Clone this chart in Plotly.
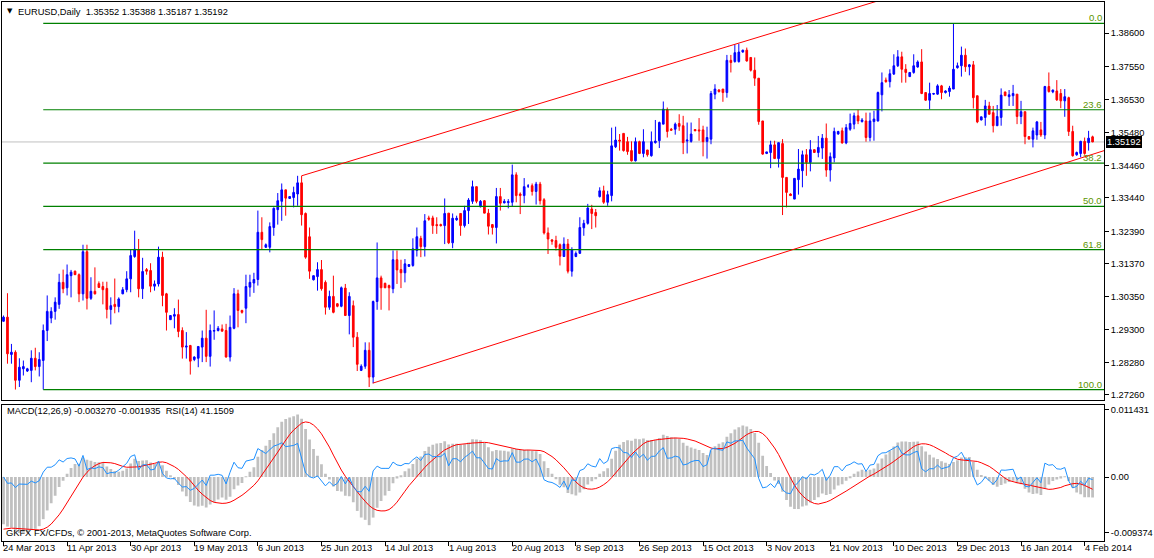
import numpy as np
import pandas as pd
import plotly.graph_objects as go

# ---------------- data ----------------
dates = pd.bdate_range("2013-03-24", periods=275, freq="C",
                       weekmask="Sun Mon Tue Wed Thu Fri")
categories = [d.strftime("%Y-%m-%d") for d in dates]

open_ = [1.2957, 1.2970, 1.2853, 1.2860, 1.2772, 1.2808, 1.2801, 1.2803, 1.2841, 1.2815,
         1.2834, 1.2928, 1.2967, 1.2988, 1.3010, 1.3079, 1.3062, 1.3100, 1.3114, 1.3103,
         1.3043, 1.3175, 1.3029, 1.3051, 1.3075, 1.3066, 1.3060, 1.2994, 1.3010, 1.3003,
         1.3043, 1.3056, 1.3090, 1.3160, 1.3182, 1.3059, 1.3119, 1.3116, 1.3067, 1.3074,
         1.3158, 1.3043, 1.2962, 1.2973, 1.2978, 1.2928, 1.2876, 1.2881, 1.2837, 1.2841,
         1.2876, 1.2904, 1.2847, 1.2926, 1.2928, 1.2933, 1.2928, 1.2845, 1.2935, 1.3043,
         1.2991, 1.2998, 1.3064, 1.3077, 1.3088, 1.3236, 1.3189, 1.3189, 1.3251, 1.3307,
         1.3333, 1.3369, 1.3342, 1.3345, 1.3356, 1.3391, 1.3295, 1.3222, 1.3087, 1.3097,
         1.3119, 1.3079, 1.3001, 1.3035, 1.3012, 1.3004, 1.3061, 1.2975, 1.3006, 1.2907,
         1.2803, 1.2816, 1.2866, 1.2782, 1.3019, 1.3093, 1.3076, 1.3069, 1.3059, 1.3150,
         1.3119, 1.3109, 1.3129, 1.3132, 1.3179, 1.3217, 1.3191, 1.3281, 1.3281, 1.3260,
         1.3260, 1.3257, 1.3296, 1.3203, 1.3275, 1.3295, 1.3257, 1.3304, 1.3333, 1.3379,
         1.3316, 1.3335, 1.3296, 1.3260, 1.3251, 1.3348, 1.3328, 1.3329, 1.3330, 1.3416,
         1.3356, 1.3351, 1.3381, 1.3382, 1.3364, 1.3387, 1.3338, 1.3234, 1.3212, 1.3210,
         1.3197, 1.3160, 1.3199, 1.3114, 1.3160, 1.3170, 1.3250, 1.3264, 1.3309, 1.3298,
         1.3348, 1.3366, 1.3330, 1.3351, 1.3504, 1.3525, 1.3546, 1.3520, 1.3492, 1.3460,
         1.3520, 1.3483, 1.3494, 1.3476, 1.3517, 1.3523, 1.3575, 1.3620, 1.3559, 1.3559,
         1.3577, 1.3570, 1.3522, 1.3521, 1.3558, 1.3557, 1.3557, 1.3521, 1.3528, 1.3669,
         1.3682, 1.3685, 1.3674, 1.3775, 1.3771, 1.3771, 1.3801, 1.3807, 1.3784, 1.3744,
         1.3719, 1.3585, 1.3483, 1.3486, 1.3510, 1.3467, 1.3514, 1.3408, 1.3356, 1.3340,
         1.3401, 1.3429, 1.3479, 1.3455, 1.3495, 1.3486, 1.3500, 1.3531, 1.3431, 1.3469,
         1.3544, 1.3554, 1.3516, 1.3559, 1.3575, 1.3601, 1.3583, 1.3585, 1.3533, 1.3583,
         1.3585, 1.3667, 1.3713, 1.3708, 1.3732, 1.3758, 1.3786, 1.3747, 1.3724, 1.3737,
         1.3754, 1.3770, 1.3674, 1.3650, 1.3669, 1.3669, 1.3695, 1.3674, 1.3677, 1.3685,
         1.3752, 1.3758, 1.3791, 1.3755, 1.3761, 1.3664, 1.3588, 1.3596, 1.3632, 1.3611,
         1.3570, 1.3596, 1.3676, 1.3661, 1.3664, 1.3669, 1.3599, 1.3614, 1.3536, 1.3528,
         1.3541, 1.3557, 1.3541, 1.3693, 1.3676, 1.3679, 1.3671, 1.3648, 1.3658, 1.3552,
         1.3479, 1.3483, 1.3521, 1.3517, 1.35352]

high = [1.2975, 1.3045, 1.2886, 1.2866, 1.2841, 1.2834, 1.2811, 1.2866, 1.2874, 1.2860,
        1.2947, 1.3038, 1.3001, 1.3032, 1.3106, 1.3119, 1.3135, 1.3118, 1.3116, 1.3107,
        1.3197, 1.3197, 1.3095, 1.3126, 1.3082, 1.3081, 1.3081, 1.3032, 1.3091, 1.3032,
        1.3064, 1.3114, 1.3182, 1.3241, 1.3215, 1.3156, 1.3124, 1.3139, 1.3085, 1.3191,
        1.3175, 1.3046, 1.2975, 1.2998, 1.3025, 1.2938, 1.2923, 1.2883, 1.2847, 1.2878,
        1.2928, 1.2993, 1.2947, 1.2991, 1.2942, 1.2947, 1.2949, 1.2975, 1.3061, 1.3056,
        1.2993, 1.3103, 1.3103, 1.3109, 1.3304, 1.3283, 1.3201, 1.3267, 1.3314, 1.3359,
        1.3389, 1.3369, 1.3348, 1.3379, 1.3413, 1.3413, 1.3298, 1.3251, 1.3100, 1.3142,
        1.3149, 1.3085, 1.3053, 1.3100, 1.3014, 1.3066, 1.3074, 1.3048, 1.3022, 1.2923,
        1.2822, 1.2891, 1.2891, 1.3022, 1.3204, 1.3100, 1.3078, 1.3072, 1.3179, 1.3179,
        1.3150, 1.3152, 1.3135, 1.3217, 1.3251, 1.3225, 1.3293, 1.3288, 1.3288, 1.3283,
        1.3263, 1.3342, 1.3296, 1.3295, 1.3288, 1.3295, 1.3319, 1.3343, 1.3398, 1.3379,
        1.3337, 1.3337, 1.3309, 1.3262, 1.3375, 1.3375, 1.3340, 1.3340, 1.3448, 1.3424,
        1.3361, 1.3406, 1.3387, 1.3389, 1.3394, 1.3394, 1.3343, 1.3251, 1.3215, 1.3225,
        1.3201, 1.3220, 1.3215, 1.3189, 1.3176, 1.3283, 1.3275, 1.3325, 1.3322, 1.3309,
        1.3377, 1.3382, 1.3366, 1.3564, 1.3567, 1.3544, 1.3546, 1.3535, 1.3521, 1.3533,
        1.3523, 1.3559, 1.3494, 1.3552, 1.3588, 1.3583, 1.3646, 1.3627, 1.3563, 1.3580,
        1.3606, 1.3601, 1.3580, 1.3580, 1.3559, 1.3594, 1.3570, 1.3567, 1.3679, 1.3700,
        1.3685, 1.3685, 1.3792, 1.3792, 1.3825, 1.3827, 1.3808, 1.3815, 1.3784, 1.3784,
        1.3719, 1.3585, 1.3488, 1.3523, 1.3523, 1.3517, 1.3528, 1.3408, 1.3358, 1.3405,
        1.3497, 1.3492, 1.3497, 1.3525, 1.3495, 1.3538, 1.3544, 1.3577, 1.3486, 1.3564,
        1.3554, 1.3564, 1.3575, 1.3608, 1.3611, 1.3620, 1.3594, 1.3611, 1.3611, 1.3617,
        1.3677, 1.3737, 1.3721, 1.3747, 1.3794, 1.3807, 1.3802, 1.3763, 1.3737, 1.3794,
        1.3775, 1.3810, 1.3674, 1.3705, 1.3673, 1.3700, 1.3698, 1.3681, 1.3695, 1.3891,
        1.3768, 1.3818, 1.3812, 1.3763, 1.3773, 1.3664, 1.3598, 1.3651, 1.3645, 1.3632,
        1.3635, 1.3687, 1.3676, 1.3682, 1.3698, 1.3669, 1.3648, 1.3614, 1.3536, 1.3564,
        1.3585, 1.3582, 1.3695, 1.3737, 1.3683, 1.3713, 1.3685, 1.3685, 1.3661, 1.3570,
        1.3489, 1.3523, 1.3533, 1.3554, 1.35388]

low = [1.2956, 1.2824, 1.2824, 1.2743, 1.2751, 1.2787, 1.2798, 1.2766, 1.2803, 1.2784,
       1.2743, 1.2895, 1.2951, 1.2962, 1.2996, 1.3045, 1.3038, 1.3032, 1.3102, 1.3017,
       1.3022, 1.2994, 1.3024, 1.3041, 1.3062, 1.3010, 1.2966, 1.2947, 1.2982, 1.2985,
       1.3042, 1.3048, 1.3048, 1.3156, 1.3032, 1.3027, 1.3103, 1.3048, 1.3053, 1.3066,
       1.3004, 1.2928, 1.2962, 1.2935, 1.2907, 1.2840, 1.2840, 1.2790, 1.2832, 1.2813,
       1.2829, 1.2829, 1.2815, 1.2899, 1.2925, 1.2925, 1.2843, 1.2831, 1.2932, 1.2938,
       1.2981, 1.2951, 1.3034, 1.3046, 1.3069, 1.3181, 1.3187, 1.3173, 1.3225, 1.3260,
       1.3272, 1.3288, 1.3341, 1.3314, 1.3319, 1.3257, 1.3153, 1.3090, 1.3085, 1.3053,
       1.3053, 1.2978, 1.2993, 1.2982, 1.3001, 1.3001, 1.2975, 1.2916, 1.2876, 1.2801,
       1.2801, 1.2808, 1.2751, 1.2763, 1.2993, 1.2993, 1.3061, 1.2991, 1.3045, 1.3074,
       1.3061, 1.3079, 1.3128, 1.3128, 1.3160, 1.3158, 1.3160, 1.3272, 1.3231, 1.3231,
       1.3254, 1.3199, 1.3199, 1.3186, 1.3272, 1.3225, 1.3251, 1.3262, 1.3325, 1.3327,
       1.3314, 1.3296, 1.3229, 1.3229, 1.3201, 1.3304, 1.3327, 1.3311, 1.3316, 1.3330,
       1.3293, 1.3327, 1.3375, 1.3351, 1.3323, 1.3323, 1.3229, 1.3168, 1.3197, 1.3179,
       1.3132, 1.3160, 1.3107, 1.3097, 1.3158, 1.3168, 1.3225, 1.3260, 1.3246, 1.3251,
       1.3345, 1.3325, 1.3319, 1.3333, 1.3500, 1.3492, 1.3489, 1.3479, 1.3458, 1.3458,
       1.3481, 1.3471, 1.3473, 1.3473, 1.3514, 1.3500, 1.3575, 1.3533, 1.3556, 1.3542,
       1.3554, 1.3481, 1.3483, 1.3517, 1.3554, 1.3523, 1.3474, 1.3467, 1.3512, 1.3653,
       1.3674, 1.3645, 1.3658, 1.3737, 1.3768, 1.3768, 1.3799, 1.3771, 1.3740, 1.3695,
       1.3573, 1.3479, 1.3481, 1.3437, 1.3466, 1.3439, 1.3290, 1.3314, 1.3351, 1.3340,
       1.3354, 1.3377, 1.3413, 1.3427, 1.3486, 1.3471, 1.3466, 1.3410, 1.3395, 1.3455,
       1.3542, 1.3514, 1.3512, 1.3554, 1.3559, 1.3575, 1.3580, 1.3520, 1.3521, 1.3523,
       1.3583, 1.3615, 1.3705, 1.3690, 1.3729, 1.3754, 1.3705, 1.3705, 1.3723, 1.3733,
       1.3752, 1.3669, 1.3648, 1.3622, 1.3667, 1.3667, 1.3653, 1.3671, 1.3661, 1.3685,
       1.3749, 1.3724, 1.3739, 1.3728, 1.3624, 1.3578, 1.3587, 1.3570, 1.3606, 1.3549,
       1.3570, 1.3570, 1.3664, 1.3632, 1.3632, 1.3575, 1.3575, 1.3512, 1.3528, 1.3502,
       1.3526, 1.3535, 1.3528, 1.3674, 1.3672, 1.3648, 1.3625, 1.3598, 1.3538, 1.3473,
       1.3476, 1.3471, 1.3479, 1.3492, 1.35187]

close = [1.2970, 1.2855, 1.2860, 1.2772, 1.2813, 1.2815, 1.2808, 1.2841, 1.2815, 1.2837,
         1.2928, 1.2988, 1.2988, 1.3017, 1.3079, 1.3059, 1.3103, 1.3111, 1.3103, 1.3043,
         1.3175, 1.3029, 1.3051, 1.3043, 1.3063, 1.3056, 1.2994, 1.3006, 1.3003, 1.3027,
         1.3056, 1.3090, 1.3163, 1.3183, 1.3059, 1.3113, 1.3114, 1.3067, 1.3074, 1.3158,
         1.3038, 1.2985, 1.2975, 1.2978, 1.2925, 1.2876, 1.2879, 1.2832, 1.2845, 1.2878,
         1.2904, 1.2847, 1.2928, 1.2928, 1.2935, 1.2926, 1.2845, 1.2938, 1.3043, 1.2991,
         1.2985, 1.3066, 1.3079, 1.3088, 1.3236, 1.3213, 1.3197, 1.3254, 1.3311, 1.3335,
         1.3369, 1.3343, 1.3348, 1.3361, 1.3391, 1.3291, 1.3158, 1.3114, 1.3100, 1.3119,
         1.3059, 1.3001, 1.3035, 1.2985, 1.3004, 1.3062, 1.2975, 1.3035, 1.2907, 1.2822,
         1.2816, 1.2866, 1.2782, 1.3019, 1.3093, 1.3062, 1.3062, 1.3062, 1.3150, 1.3118,
         1.3109, 1.3137, 1.3135, 1.3184, 1.3222, 1.3191, 1.3272, 1.3277, 1.3257, 1.3257,
         1.3257, 1.3295, 1.3203, 1.3280, 1.3280, 1.3257, 1.3304, 1.3337, 1.3379, 1.3333,
         1.3333, 1.3296, 1.3255, 1.3251, 1.3348, 1.3327, 1.3333, 1.3332, 1.3416, 1.3351,
         1.3351, 1.3379, 1.3381, 1.3364, 1.3387, 1.3335, 1.3234, 1.3215, 1.3208, 1.3189,
         1.3161, 1.3199, 1.3114, 1.3181, 1.3170, 1.3251, 1.3264, 1.3312, 1.3295, 1.3288,
         1.3366, 1.3330, 1.3354, 1.3507, 1.3525, 1.3522, 1.3492, 1.3489, 1.3460, 1.3520,
         1.3483, 1.3520, 1.3479, 1.3520, 1.3522, 1.3580, 1.3622, 1.3552, 1.3556, 1.3575,
         1.3568, 1.3517, 1.3525, 1.3544, 1.3554, 1.3554, 1.3520, 1.3533, 1.3671, 1.3685,
         1.3677, 1.3674, 1.3775, 1.3768, 1.3799, 1.3801, 1.3807, 1.3773, 1.3744, 1.3719,
         1.3583, 1.3481, 1.3488, 1.3510, 1.3467, 1.3517, 1.3408, 1.3361, 1.3351, 1.3405,
         1.3434, 1.3479, 1.3455, 1.3495, 1.3486, 1.3502, 1.3531, 1.3431, 1.3473, 1.3552,
         1.3552, 1.3516, 1.3564, 1.3577, 1.3601, 1.3585, 1.3588, 1.3533, 1.3585, 1.3591,
         1.3674, 1.3705, 1.3708, 1.3733, 1.3758, 1.3786, 1.3747, 1.3737, 1.3737, 1.3758,
         1.3770, 1.3671, 1.3650, 1.3671, 1.3671, 1.3695, 1.3674, 1.3679, 1.3688, 1.3747,
         1.3758, 1.3791, 1.3755, 1.3761, 1.3658, 1.3582, 1.3598, 1.3632, 1.3606, 1.3570,
         1.3599, 1.3666, 1.3664, 1.3667, 1.3671, 1.3599, 1.3614, 1.3536, 1.3528, 1.3554,
         1.3582, 1.3541, 1.3693, 1.3677, 1.3682, 1.3651, 1.3648, 1.3661, 1.3552, 1.3476,
         1.3486, 1.3521, 1.3483, 1.3531, 1.35192]

# price axis labels (right side) and lower-pane labels
price_ticks = [1.38600, 1.37550, 1.36530, 1.35480, 1.34460, 1.33440,
               1.32390, 1.31370, 1.30350, 1.29300, 1.28280, 1.27260]
macd_ticks = [0.011431, 0.0, -0.009374]
macd_tick_text = ["0.011431", "0.00", "-0.009374"]

# date axis labels
tick_dates = ["2013-03-24", "2013-04-11", "2013-04-30", "2013-05-19", "2013-06-06",
              "2013-06-25", "2013-07-14", "2013-08-01", "2013-08-20", "2013-09-08",
              "2013-09-26", "2013-10-15", "2013-11-03", "2013-11-21", "2013-12-10",
              "2013-12-29", "2014-01-16", "2014-02-04"]
tick_labels = ["24 Mar 2013", "11 Apr 2013", "30 Apr 2013", "19 May 2013", "6 Jun 2013",
               "25 Jun 2013", "14 Jul 2013", "1 Aug 2013", "20 Aug 2013", "8 Sep 2013",
               "26 Sep 2013", "15 Oct 2013", "3 Nov 2013", "21 Nov 2013", "10 Dec 2013",
               "29 Dec 2013", "16 Jan 2014", "4 Feb 2014"]

# Fibonacci retracement: anchored on the bar-10 low and the bar-239 high
fib_low_bar, fib_high_bar = 10, 239
fib_levels = [0.0, 23.6, 38.2, 50.0, 61.8, 100.0]

# channel trend lines: (bar index, price) anchors, drawn as rays to the right
trend_upper = [(75, 1.3413), (185, 1.3829)]
trend_lower = [(92.9, 1.2763), (259, 1.3421)]

# indicator warm-up state before the first visible bar
seed_ema12, seed_ema26 = 1.2980, 1.3065
seed_macd_prev = [-0.0092, -0.0091, -0.0090, -0.0089, -0.0088, -0.0087, -0.0087, -0.0086]
seed_prev_close, seed_avg_gain, seed_avg_loss = 1.2957, 0.0032, 0.0040

header_text = "EURUSD,Daily  1.35352 1.35388 1.35187 1.35192"
ind_text = "MACD(12,26,9) -0.003270 -0.001935  RSI(14) 41.1509"
copy_text = "GKFX FX/CFDs, \u00a9 2001-2013, MetaQuotes Software Corp."

# ---------------- indicators ----------------
cl = np.array(close)
e12, e26 = seed_ema12, seed_ema26
macd = []
for c in cl:
    e12 += 2 / 13 * (c - e12)
    e26 += 2 / 27 * (c - e26)
    macd.append(e12 - e26)
full = seed_macd_prev + macd
signal = [float(np.mean(full[i:i + 9])) for i in range(len(macd))]

ag, al, prev = seed_avg_gain, seed_avg_loss, seed_prev_close
rsi = []
for c in cl:
    d = c - prev
    ag = (ag * 13 + max(d, 0)) / 14
    al = (al * 13 + max(-d, 0)) / 14
    rsi.append(100 - 100 / (1 + ag / al))
    prev = c

# ---------------- figure ----------------
FONT = "Liberation Sans, Arial, sans-serif"
FS = 9.3
W, H = 1154, 558
ML, MR, MT, MB = 2, 43, 1, 17
plot_h = H - MT - MB
X0, X1 = -0.375, 276.875


def py(px):
    """paper y for a pixel row"""
    return (H - MB - px) / plot_h


main_dom = [py(400), 1.0]
low_dom = [0.0, py(405)]

fig = go.Figure()
fig.add_trace(go.Candlestick(
    x=categories, open=open_, high=high, low=low, close=close,
    increasing=dict(line=dict(color="#0000ff", width=1), fillcolor="#0000ff"),
    decreasing=dict(line=dict(color="#ff0000", width=1), fillcolor="#ff0000"),
    whiskerwidth=0, xaxis="x", yaxis="y", hoverinfo="skip"))
fig.add_trace(go.Bar(x=categories, y=macd, marker_color="#c0c0c0", marker_line_width=0,
                     width=0.7, xaxis="x2", yaxis="y2", hoverinfo="skip"))
fig.add_trace(go.Scatter(x=categories, y=signal, mode="lines",
                         line=dict(color="#ff0000", width=1), xaxis="x2", yaxis="y2",
                         hoverinfo="skip"))
fig.add_trace(go.Scatter(x=categories, y=rsi, mode="lines",
                         line=dict(color="#1e90ff", width=1), xaxis="x2", yaxis="y3",
                         hoverinfo="skip"))

shapes = []
# bid line
shapes.append(dict(type="line", xref="x", yref="y", x0=X0, x1=X1, y0=close[-1], y1=close[-1],
                   line=dict(color="#c0c0c0", width=1), layer="below"))
fib_low = low[fib_low_bar]
fib_high = high[fib_high_bar]
annotations = []
for lv in fib_levels:
    yv = fib_high - (fib_high - fib_low) * lv / 100.0
    shapes.append(dict(type="line", xref="x", yref="y", x0=fib_low_bar, x1=X1, y0=yv, y1=yv,
                       line=dict(color="#008000", width=1.2)))
    annotations.append(dict(x=1, xref="paper", y=yv, yref="y", text=f"{lv:.1f}",
                            xanchor="right", yanchor="bottom", showarrow=False,
                            borderpad=0, borderwidth=0, xshift=-2, yshift=0,
                            font=dict(family=FONT, size=FS + 0.3, color="#5c9400")))
for (b0, p0), (b1, p1) in (trend_upper, trend_lower):
    slope = (p1 - p0) / (b1 - b0)
    shapes.append(dict(type="line", xref="x", yref="y", x0=b0, y0=p0, x1=X1,
                       y1=p0 + slope * (X1 - b0), line=dict(color="#ff0000", width=1)))

# header / panel texts
annotations.append(dict(x=(9.7 - ML) / (W - ML - MR), y=py(10.5), xref="paper", yref="paper",
                        text="\u25bc", showarrow=False, xanchor="center", yanchor="middle",
                        font=dict(family="DejaVu Sans", size=7, color="black")))
annotations.append(dict(x=(18 - ML) / (W - ML - MR), y=py(10.7), xref="paper", yref="paper",
                        text=header_text, showarrow=False, xanchor="left", yanchor="middle",
                        borderpad=0, borderwidth=0,
                        font=dict(family=FONT, size=FS, color="black")))
annotations.append(dict(x=(7 - ML) / (W - ML - MR), y=py(410.7), xref="paper", yref="paper",
                        text=ind_text, showarrow=False, xanchor="left", yanchor="middle",
                        borderpad=0, borderwidth=0,
                        font=dict(family=FONT, size=FS, color="black")))
annotations.append(dict(x=(6 - ML) / (W - ML - MR), y=py(532.7), xref="paper", yref="paper",
                        text=copy_text, showarrow=False, xanchor="left", yanchor="middle",
                        borderpad=0, borderwidth=0,
                        font=dict(family=FONT, size=FS, color="black")))
# current price box
annotations.append(dict(x=1, xref="paper", y=close[-1], yref="y",
                        text=f"{close[-1]:.5f}", showarrow=False, xanchor="left",
                        yanchor="middle", bgcolor="black", borderpad=1, borderwidth=0,
                        xshift=2, font=dict(family=FONT, size=FS, color="white")))
# date labels
for d, lab in zip(tick_dates, tick_labels):
    annotations.append(dict(x=categories.index(d), xref="x2", y=0, yref="paper",
                            text=lab, showarrow=False, xanchor="left", yanchor="top",
                            borderpad=0, borderwidth=0, xshift=0, yshift=-2,
                            font=dict(family=FONT, size=FS, color="black")))

axis_common = dict(showline=True, mirror=True, linecolor="black", linewidth=1,
                   showgrid=False, zeroline=False, fixedrange=True)

fig.update_layout(
    width=W, height=H, margin=dict(l=ML, r=MR, t=MT, b=MB, pad=0),
    paper_bgcolor="white", plot_bgcolor="white", showlegend=False,
    boxgap=0.4, bargap=0.3,
    font=dict(family=FONT, size=FS, color="black"),
    xaxis=dict(domain=[0, 1], anchor="y", type="category", range=[X0, X1],
               showticklabels=False, ticks="", rangeslider=dict(visible=False),
               **axis_common),
    yaxis=dict(domain=main_dom, anchor="x", side="right",
               range=[1.3961 - 0.0003129 * 400, 1.3961 - 0.0003129 * 1],
               tickmode="array", tickvals=price_ticks,
               ticktext=[f"{v:.5f}" for v in price_ticks], ticks="outside", ticklen=4,
               tickcolor="black", tickfont=dict(family=FONT, size=FS, color="black"),
               **axis_common),
    xaxis2=dict(domain=[0, 1], anchor="y2", type="category", range=[X0, X1],
                matches="x", tickmode="array", tickvals=tick_dates, showticklabels=False,
                ticks="outside", ticklen=4, tickcolor="black", **axis_common),
    yaxis2=dict(domain=low_dom, anchor="x2", side="right",
                range=[-0.010773, 0.012103], tickmode="array", tickvals=macd_ticks,
                ticktext=macd_tick_text, ticks="outside", ticklen=4, tickcolor="black",
                tickfont=dict(family=FONT, size=FS, color="black"), **axis_common),
    yaxis3=dict(overlaying="y2", anchor="x2", side="left", range=[-6.71, 103.23],
                visible=False, fixedrange=True, showgrid=False, zeroline=False),
    shapes=shapes, annotations=annotations,
)

fig.write_html("out.html", config={"displayModeBar": False},
               post_script="document.body.style.margin='0px';")
